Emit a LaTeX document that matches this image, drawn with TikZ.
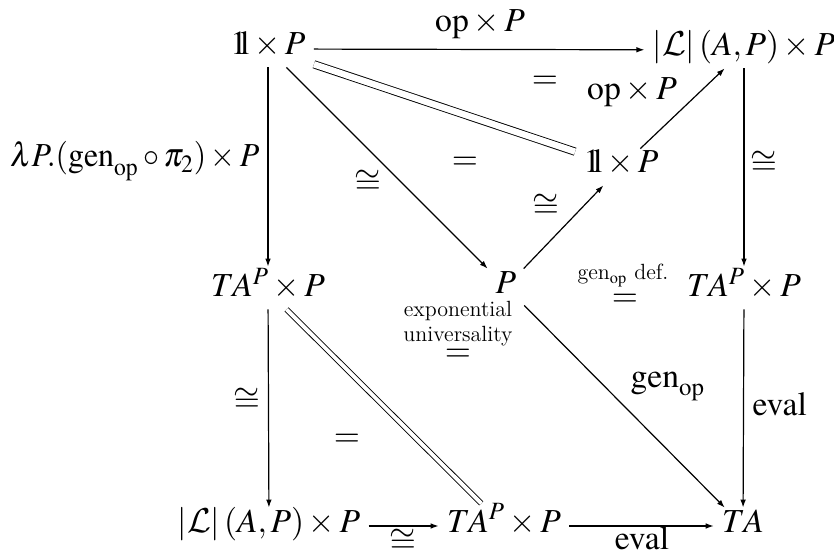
\documentclass[tikz,border=0pt]{standalone}
\usepackage{mathptmx}
\usepackage{graphicx}
\DeclareMathAlphabet{\mathcal}{OMS}{cmsy}{m}{n}
\usetikzlibrary{arrows.meta}
\newcommand\oneobj{\mathord{\mathrm{1}\mkern-3.8mu\mathrm{l}}}
\newcommand\Lcal{\mathcal{L}}
\begin{document}
\begin{tikzpicture}[x=0.5pt,y=-0.5pt,
  font=\fontsize{16.8}{20}\selectfont,
  obj/.style={anchor=base, inner xsep=4pt, inner ysep=3pt, text height=0.9em, text depth=0.3em},
  lab/.style={inner sep=0pt},
  small/.style={font=\fontsize{11}{13}\selectfont, inner sep=0pt},
  arr/.style={line width=0.6pt, -{Latex[length=4pt,width=2.8pt]}},
  eqA/.style={line width=0.45pt, double, double distance=3.2pt},
  eqB/.style={line width=0.45pt, double, double distance=1.9pt}]
\fill[white] (0,0) rectangle (834,555);
\useasboundingbox (0,0) rectangle (834,555);
% objects
\node[obj] (A) at (268,55) {$\oneobj\times P$};
\node[obj] (B) at (744,56) {$\vert\Lcal\vert\,(A,P)\times P$};
\node[obj] (C) at (621,173) {$\oneobj\times P$};
\node[obj] (D) at (506,293) {$P$};
\node[obj] (E) at (268,297) {$TA^P\times P$};
\node[obj] (F) at (744,297) {$TA^P\times P$};
\node[obj] (G) at (269,532) {$\vert\Lcal\vert\,(A,P)\times P$};
\node[obj] (H) at (504,532) {$TA^P\times P$};
\node[obj] (I) at (743,532) {$TA$};
% connectors
\draw[arr] (A) -- (B) node[lab, anchor=base] (l1) at (480,32) {$\mathrm{op}\times P$};
\draw[arr, shorten >=3pt] (A) -- (E) node[lab, anchor=base east] (l2) at (260,167) {\scalebox{0.95}[1]{$\lambda P.(\mathrm{gen}_{\mathrm{op}}\circ\pi_2)\times P$}};
\draw[arr] (A) -- (D) node[lab] (l3) at (368,182) {$\cong$};
\draw[eqA] (A) -- (C);
\draw[arr] (D) -- (C) node[lab] (l4) at (546,206) {$\cong$};
\draw[arr] (C) -- (B) node[lab, anchor=base] (l5) at (632,100) {$\mathrm{op}\times P$};
\draw[arr, shorten >=3pt] (B) -- (F) node[lab] (l6) at (764,163) {$\cong$};
\draw[arr] (E) -- (G) node[lab] (l7) at (247,400) {$\cong$};
\draw[eqB, shorten >=3pt] (E) -- (H);
\draw[arr] (G) -- (H) node[lab] (l8) at (403,541) {$\cong$};
\draw[arr] (H) -- (I) node[lab, anchor=base] (l9) at (642,549) {$\mathrm{eval}$};
\draw[arr] (D) -- (I) node[lab, anchor=base west] (l10) at (630,387) {$\mathrm{gen}_{\mathrm{op}}$};
\draw[arr] (F) -- (I) node[lab, anchor=base west] (l11) at (752,415) {$\mathrm{eval}$};
% 2-cell annotations
\node[lab] (c1) at (545,82) {$=$};
\node[lab] (c2) at (465,163) {$=$};
\node[lab] (c3) at (347,440) {$=$};
\node[small, anchor=base] (eu1) at (458,317) {exponential};
\node[small, anchor=base] (eu2) at (458,342) {universality};
\node[lab] (c4) at (458,355) {$=$};
\node[small, anchor=base] (gd) at (623,280) {gen$_{\mathrm{op}}$ def.};
\node[lab] (c5) at (625,300) {$=$};
\end{tikzpicture}
\end{document}
